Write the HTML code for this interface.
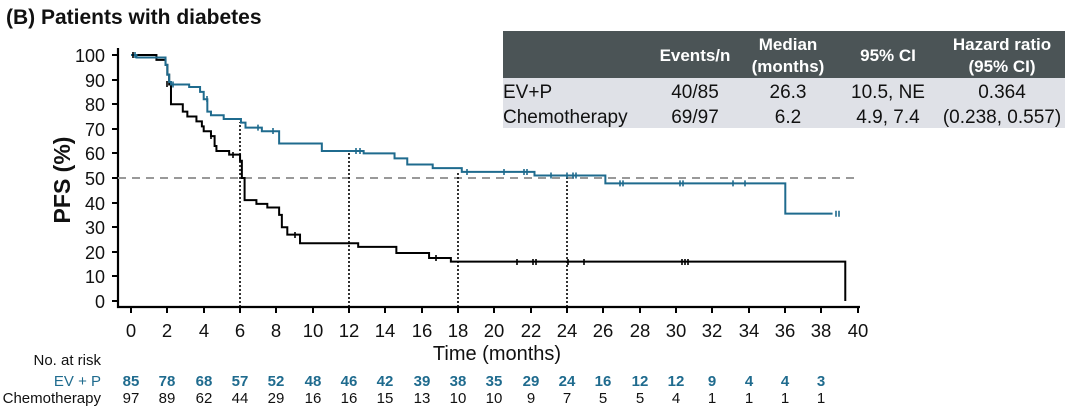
<!DOCTYPE html>
<html><head><meta charset="utf-8"><style>
body{margin:0;background:#fff;width:1080px;height:414px;overflow:hidden;font-family:"Liberation Sans",Arial,sans-serif}
</style></head><body>
<svg width="1080" height="414" viewBox="0 0 1080 414" xmlns="http://www.w3.org/2000/svg" font-family="Liberation Sans, Arial, sans-serif">
<text x="6" y="24" font-size="21" font-weight="bold" fill="#111">(B) Patients with diabetes</text>
<!-- table -->
<rect x="503" y="31" width="562" height="47" fill="#4b5456"/>
<rect x="503" y="78" width="562" height="50" fill="#dfe1e7"/>
<g font-size="17" font-weight="bold" fill="#fff" text-anchor="middle">
<text x="695" y="61">Events/n</text>
<text x="788" y="50">Median</text><text x="788" y="72">(months)</text>
<text x="888" y="61">95% CI</text>
<text x="1002" y="50">Hazard ratio</text><text x="1002" y="72">(95% CI)</text>
</g>
<g font-size="19" fill="#111" text-anchor="middle">
<text x="503" y="98" text-anchor="start">EV+P</text>
<text x="503" y="123" text-anchor="start">Chemotherapy</text>
<text x="695" y="98">40/85</text><text x="695" y="123">69/97</text>
<text x="788" y="98">26.3</text><text x="788" y="123">6.2</text>
<text x="888" y="98">10.5, NE</text><text x="888" y="123">4.9, 7.4</text>
<text x="1002" y="98">0.364</text><text x="1002" y="123">(0.238, 0.557)</text>
</g>
<!-- axes -->
<g stroke="#000" stroke-width="2.2" fill="none">
<path d="M118 48 V307 H860"/>
</g>
<g stroke="#000" stroke-width="2">
<path d="M112 55H118M112 80H118M112 104H118M112 129H118M112 153H118M112 178H118M112 203H118M112 227H118M112 252H118M112 276H118M112 301H118"/>
<path d="M131 307V313M167 307V313M204 307V313M240 307V313M276 307V313M313 307V313M349 307V313M385 307V313M422 307V313M458 307V313M494 307V313M531 307V313M567 307V313M603 307V313M640 307V313M676 307V313M712 307V313M749 307V313M785 307V313M821 307V313M858 307V313"/>
</g>
<g font-size="18" fill="#111" text-anchor="end">
<text x="105" y="62">100</text><text x="105" y="87">90</text><text x="105" y="111">80</text><text x="105" y="136">70</text><text x="105" y="160">60</text><text x="105" y="185">50</text><text x="105" y="210">40</text><text x="105" y="234">30</text><text x="105" y="259">20</text><text x="105" y="283">10</text><text x="105" y="308">0</text>
</g>
<text transform="translate(70,180) rotate(-90)" font-size="23" font-weight="bold" text-anchor="middle" fill="#111">PFS (%)</text>
<g font-size="18.5" fill="#111" text-anchor="middle">
<text x="131" y="337">0</text><text x="167" y="337">2</text><text x="204" y="337">4</text><text x="240" y="337">6</text><text x="276" y="337">8</text><text x="313" y="337">10</text><text x="349" y="337">12</text><text x="385" y="337">14</text><text x="422" y="337">16</text><text x="458" y="337">18</text><text x="494" y="337">20</text><text x="531" y="337">22</text><text x="567" y="337">24</text><text x="603" y="337">26</text><text x="640" y="337">28</text><text x="676" y="337">30</text><text x="712" y="337">32</text><text x="749" y="337">34</text><text x="785" y="337">36</text><text x="821" y="337">38</text><text x="858" y="337">40</text>
<text x="497" y="360" font-size="20">Time (months)</text>
</g>
<!-- dashed 50 -->
<path d="M118 178H860" stroke="#999" stroke-width="2" stroke-dasharray="8,6"/>
<!-- dotted verticals -->
<g stroke="#000" stroke-width="1.6" stroke-dasharray="2,2">
<path d="M240 307V122M349 307V151M458 307V172M567 307V176"/>
</g>
<!-- curves -->
<g transform="translate(131,301) scale(18.175,-2.46)" fill="none" stroke-width="2">
<path vector-effect="non-scaling-stroke" stroke="#000" d="M0,100 H1.4 V98 H1.9 V96 H2.0 V92 H2.1 V88 H2.2 V80 H2.85 V77 H3.1 V75 H3.6 V73 H3.9 V71 H4.0 V69 H4.4 V67 H4.6 V63 H4.7 V61 H5.4 V59.5 H6.0 V57 H6.1 V50 H6.25 V41 H6.9 V39.5 H7.5 V38 H8.15 V35 H8.3 V30 H8.6 V27 H9.3 V23.5 H12.5 V22 H14.6 V19.5 H16.4 V17.5 H17.6 V16 H39.3 V0"/>
<path vector-effect="non-scaling-stroke" stroke="#1f6b8e" d="M0,100 H0.3 V99 H1.9 V96 H2.0 V92 H2.1 V89 H2.2 V88 H3.2 V87 H3.8 V85 H4.0 V82 H4.2 V77 H4.4 V75.5 H5.1 V74 H6.05 V72.5 H6.3 V70.5 H7.2 V69 H8.15 V64 H10.5 V61 H12.8 V60 H14.5 V58 H15.2 V55.5 H16.6 V54 H18.2 V52.5 H22.2 V51 H26.1 V47.8 H36 V35.5 H38.6"/>
</g>
<!-- censor marks -->
<g stroke="#1f6b8e" stroke-width="1.6">
<path d="M135 52v6M173 81.5v6M207 96v6M258 124.6v6M273 128v6M356 148v6M360 148v6M467 169v6M504 169v6M524 169v6M527 169v6M551 172.5v6M567 172.5v6M573 172.5v6M576 172.5v6M620 180.4v6M623 180.4v6M680 180.4v6M683 180.4v6M733 180.4v6M745 180.4v6M836 210.7v6M839 210.7v6"/>
</g>
<g stroke="#000" stroke-width="1.6">
<path d="M133 52v6M167 81v6M211 133v6M233 152v6M295 232v6M436 255v6M517 259v6M533 259v6M536 259v6M568 259v6M584 259v6M682 259v6M685 259v6M688 259v6"/>
</g>
<!-- at risk -->
<g font-size="15" text-anchor="end">
<text x="101" y="365" fill="#111">No. at risk</text>
<text x="101" y="386" fill="#1f6b8e">EV + P</text>
<text x="101" y="403" fill="#111">Chemotherapy</text>
</g>
<g font-size="15" font-weight="bold" fill="#1f6b8e" text-anchor="middle">
<text x="131" y="386">85</text><text x="167" y="386">78</text><text x="204" y="386">68</text><text x="240" y="386">57</text><text x="276" y="386">52</text><text x="313" y="386">48</text><text x="349" y="386">46</text><text x="385" y="386">42</text><text x="422" y="386">39</text><text x="458" y="386">38</text><text x="494" y="386">35</text><text x="531" y="386">29</text><text x="567" y="386">24</text><text x="603" y="386">16</text><text x="640" y="386">12</text><text x="676" y="386">12</text><text x="712" y="386">9</text><text x="749" y="386">4</text><text x="785" y="386">4</text><text x="821" y="386">3</text>
</g>
<g font-size="15" fill="#111" text-anchor="middle">
<text x="131" y="403">97</text><text x="167" y="403">89</text><text x="204" y="403">62</text><text x="240" y="403">44</text><text x="276" y="403">29</text><text x="313" y="403">16</text><text x="349" y="403">16</text><text x="385" y="403">15</text><text x="422" y="403">13</text><text x="458" y="403">10</text><text x="494" y="403">10</text><text x="531" y="403">9</text><text x="567" y="403">7</text><text x="603" y="403">5</text><text x="640" y="403">5</text><text x="676" y="403">4</text><text x="712" y="403">1</text><text x="749" y="403">1</text><text x="785" y="403">1</text><text x="821" y="403">1</text>
</g>
</svg>
</body></html>
